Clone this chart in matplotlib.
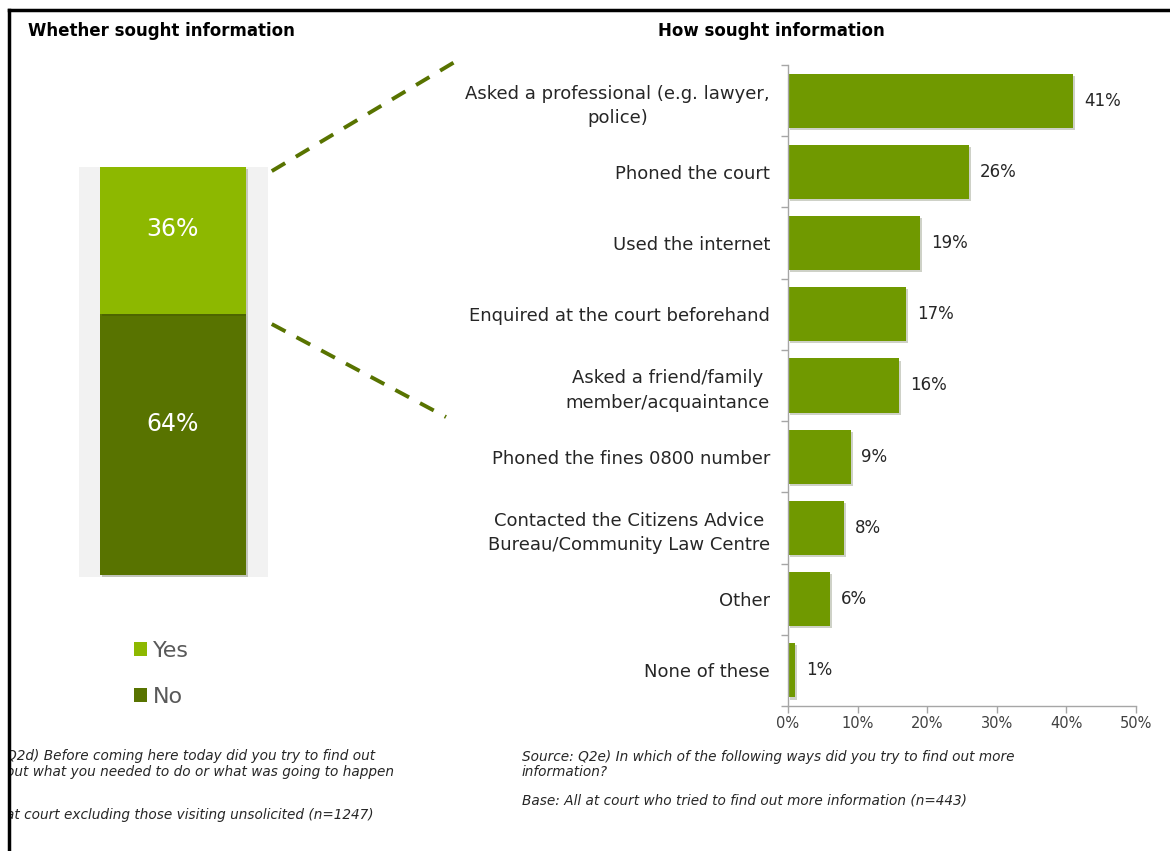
import matplotlib
matplotlib.use("Agg")
import matplotlib.pyplot as plt
import matplotlib.patheffects as pe
from matplotlib.lines import Line2D
from matplotlib.patches import Rectangle, Patch
from matplotlib.ticker import FixedLocator

# ---- data ----
split_labels = ["No", "Yes"]
split_values = [64, 36]
split_colors = ["#587300", "#8DB800"]

methods = [
    "Asked a professional (e.g. lawyer,\npolice)",
    "Phoned the court",
    "Used the internet",
    "Enquired at the court beforehand",
    "Asked a friend/family\nmember/acquaintance",
    "Phoned the fines 0800 number",
    "Contacted the Citizens Advice\nBureau/Community Law Centre",
    "Other",
    "None of these",
]
method_values = [41, 26, 19, 17, 16, 9, 8, 6, 1]
x_ticks = [0, 10, 20, 30, 40, 50]

BAR = "#709900"
W, H = 1170, 851
fig = plt.figure(figsize=(W / 100, H / 100), dpi=100)
fig.patch.set_facecolor("white")

FONT = "DejaVu Sans"
TITLE_FONT = "DejaVu Sans"
SHADOW = [pe.SimplePatchShadow(offset=(1.5, -1.5), alpha=0.22), pe.Normal()]


def fx(px):
    return px / W


def fy(py):
    return 1 - py / H


# ---- left panel: stacked yes/no bar ----
axl = fig.add_axes([fx(79), fy(577), fx(268) - fx(79), fy(167) - fy(577)])
axl.set_facecolor("#F2F2F2")
axl.set_xlim(0, 1)
axl.set_ylim(-0.5, 100)
bottom = 0
for lab, val, col in zip(split_labels, split_values, split_colors):
    b = axl.bar(0.497, val, width=0.772, bottom=bottom, color=col, linewidth=0,
                zorder=2)
    b[0].set_path_effects(SHADOW)
    axl.text(0.497, bottom + val * 0.58, f"{val}%", ha="center", va="center",
             color="white", fontsize=17, family=FONT, zorder=3)
    bottom += val
for s in axl.spines.values():
    s.set_visible(False)
axl.set_xticks([])
axl.set_yticks([])

# legend (Yes on top)
handles = [Patch(facecolor=c, edgecolor="none") for c in split_colors][::-1]
fig.legend(handles, split_labels[::-1], loc="upper left",
           bbox_to_anchor=(fx(114), fy(621)), frameon=False,
           prop={"family": FONT, "size": 16},
           handlelength=0.6, handleheight=0.6, handletextpad=0.25,
           labelspacing=1.15, labelcolor="#595959")

# ---- right panel: horizontal bars ----
axr = fig.add_axes([fx(788), fy(706), fx(1136) - fx(788), fy(65) - fy(706)])
ypos = list(range(len(methods)))
bars = axr.barh(ypos, method_values, height=0.76, color=BAR, linewidth=0, zorder=2)
for bar in bars:
    bar.set_path_effects(SHADOW)
for y, v in zip(ypos, method_values):
    axr.text(v + 1.55, y, f"{v}%", va="center", ha="left", fontsize=12,
             family=FONT, color="#262626")
axr.set_ylim(len(methods) - 0.5, -0.5)
axr.set_xlim(0, 50)
axr.set_yticks(ypos)
axr.set_yticklabels(methods, fontsize=13, family=FONT, color="#262626",
                    multialignment="center", linespacing=1.45)
axr.tick_params(axis="y", which="major", length=0, pad=13)
axr.yaxis.set_minor_locator(FixedLocator([i - 0.5 for i in range(len(methods) + 1)]))
axr.tick_params(axis="y", which="minor", length=5, color="#A6A6A6", width=1)
axr.set_xticks(x_ticks)
axr.set_xticklabels([f"{t}%" for t in x_ticks], fontsize=10.5, family=FONT,
                    color="#404040")
axr.tick_params(axis="x", length=5, color="#A6A6A6", width=1, pad=2)
for side in ("top", "right"):
    axr.spines[side].set_visible(False)
for side in ("left", "bottom"):
    axr.spines[side].set_color("#A6A6A6")
    axr.spines[side].set_linewidth(1)
axr.set_facecolor("none")

# ---- dashed connectors from the "Yes" segment to the breakdown ----
for yv, end in ((99, (fx(458), fy(60))), (61.5, (fx(446), fy(417)))):
    start = axl.transData.transform((1.02, yv))
    start = fig.transFigure.inverted().transform(start)
    fig.add_artist(Line2D([start[0], end[0]], [start[1], end[1]],
                          transform=fig.transFigure, color="#587300",
                          lw=2.8, dashes=(4, 3.2)))

# ---- titles ----
fig.text(fx(28), fy(31), "Whether sought information", fontsize=12,
         fontweight="bold", family=TITLE_FONT, va="center", ha="left")
fig.text(fx(658), fy(31), "How sought information", fontsize=12,
         fontweight="bold", family=TITLE_FONT, va="center", ha="left")

# ---- footnotes ----
note = dict(fontsize=9.8, family=FONT, style="italic", color="#262626",
            va="center", ha="left")
fig.text(fx(6), fy(756), "Q2d) Before coming here today did you try to find out", **note)
fig.text(fx(6), fy(772), "out what you needed to do or what was going to happen", **note)
fig.text(fx(6), fy(815), "at court excluding those visiting unsolicited (n=1247)", **note)
fig.text(fx(522), fy(757),
         "Source: Q2e) In which of the following ways did you try to find out more",
         **note)
fig.text(fx(522), fy(772), "information?", **note)
fig.text(fx(522), fy(800),
         "Base: All at court who tried to find out more information (n=443)", **note)

# ---- frame ----
fig.add_artist(Rectangle((0, 0), fx(8), 1, transform=fig.transFigure,
                         color="white", zorder=5))
fig.add_artist(Line2D([fx(9), 1], [fy(10), fy(10)], transform=fig.transFigure,
                      color="black", lw=2.5, zorder=6))
fig.add_artist(Line2D([fx(9), fx(9)], [fy(10), 0], transform=fig.transFigure,
                      color="black", lw=2.5, zorder=6))

fig.savefig("out.png", dpi=100, facecolor="white")
